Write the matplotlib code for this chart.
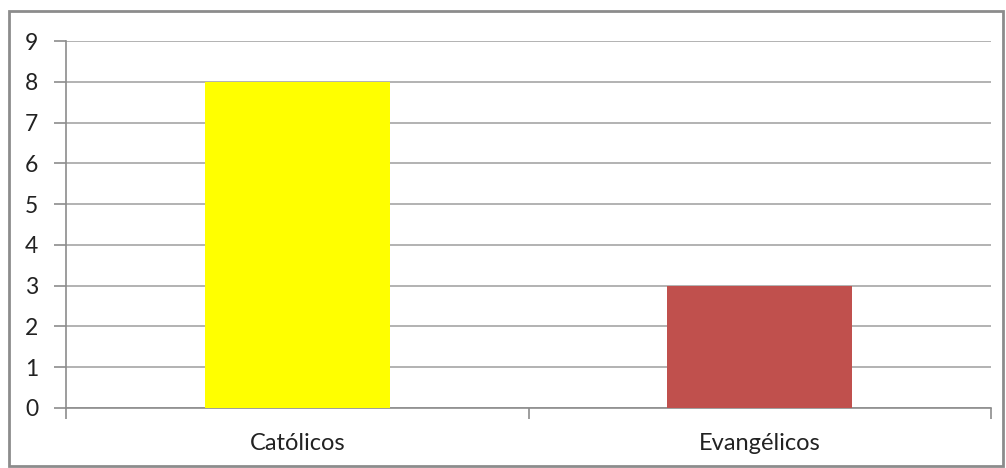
import matplotlib
matplotlib.use("Agg")
import matplotlib.pyplot as plt
from matplotlib.patches import Rectangle

categories = ["Católicos", "Evangélicos"]
values = [8, 3]
colors = ["#FFFF00", "#C0504D"]
yticks = list(range(0, 10))

plt.rcParams['font.family'] = ['Lato', 'DejaVu Sans']

W, H = 1006, 468
fig = plt.figure(figsize=(W / 100, H / 100), dpi=100)
ax = fig.add_axes([66 / W, 1 - 408 / H, (991 - 66) / W, (408 - 41) / H])

x = list(range(len(categories)))
ax.bar(x, values, width=0.4, color=colors, zorder=3)

ax.set_xlim(-0.5, len(categories) - 0.5)
ax.set_ylim(0, 9)
ax.set_yticks(yticks)
ax.yaxis.grid(True, color="#A6A6A6", linewidth=1.2, zorder=0)
ax.tick_params(axis="y", length=9, width=1.2, color="#8C8C8C", labelsize=16.5,
               labelcolor="#222222", pad=11)

ax.set_xticks([-0.5, 0.5, 1.5])
ax.set_xticklabels([])
ax.set_xticks(x, minor=True)
ax.set_xticklabels(categories, minor=True)
ax.tick_params(axis="x", which="major", length=8, width=1.2, color="#8C8C8C")
ax.tick_params(axis="x", which="minor", length=0, labelsize=17,
               labelcolor="#222222", pad=18)

for s in ["top", "right"]:
    ax.spines[s].set_visible(False)
for s in ["left", "bottom"]:
    ax.spines[s].set_color("#8C8C8C")
    ax.spines[s].set_linewidth(1.2)

fig.patches.append(Rectangle((9 / W, 1 - 466 / H), (1003 - 9) / W, (466 - 11) / H,
                             transform=fig.transFigure, fill=False,
                             edgecolor="#8C8C8C", linewidth=2))

fig.savefig("out.png", dpi=100)
